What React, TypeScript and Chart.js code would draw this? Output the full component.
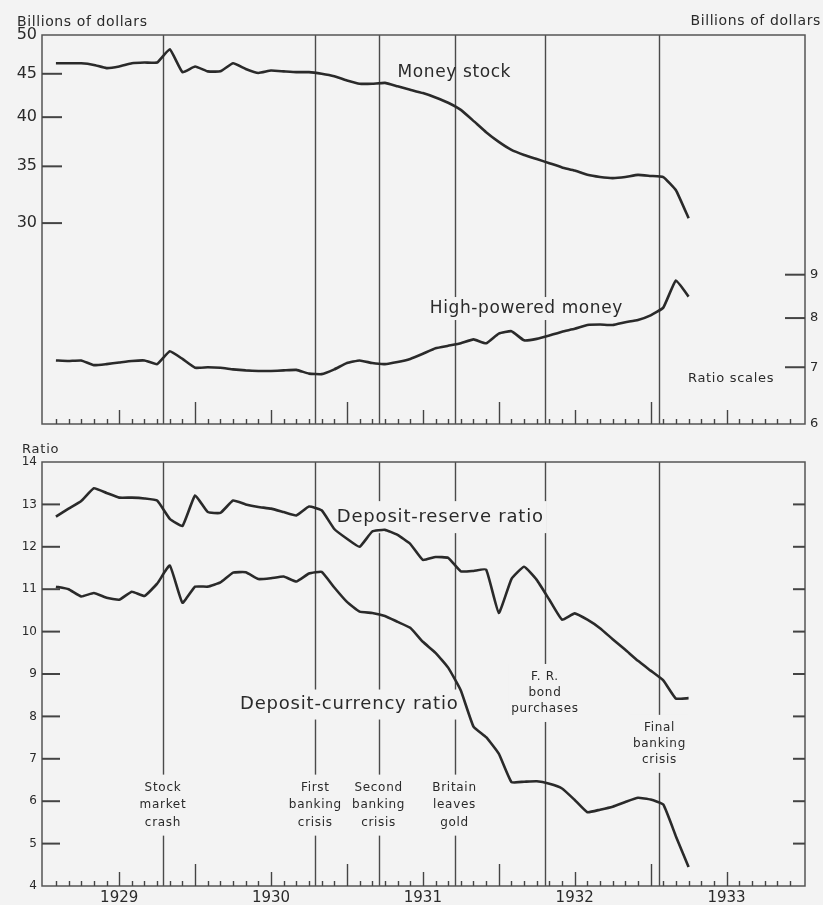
import React, { useEffect, useRef } from "react";
import { Chart, registerables } from "chart.js";

Chart.register(...registerables);

// Monthly observations, Jan 1929 (index 0) to Mar 1933 (index 50)
const moneyStock = [
  46.3, 46.3, 46.3, 46.1, 45.7, 45.9, 46.3, 46.4, 46.4, 48.1, 45.2, 45.9,
  45.3, 45.3, 46.3, 45.6, 45.1, 45.4, 45.3, 45.2, 45.2, 45.0, 44.7, 44.2,
  43.8, 43.8, 43.9, 43.5, 43.1, 42.7, 42.2, 41.6, 40.8, 39.6, 38.4, 37.4,
  36.6, 36.1, 35.7, 35.3, 34.9, 34.6, 34.2, 34.0, 33.9, 34.0, 34.2, 34.1,
  34.0, 32.8, 30.4,
];
const highPoweredMoney = [
  7.13, 7.12, 7.13, 7.04, 7.06, 7.09, 7.12, 7.13, 7.06, 7.31, 7.16, 6.99,
  7.0, 6.99, 6.96, 6.94, 6.93, 6.93, 6.94, 6.95, 6.88, 6.87, 6.96, 7.08,
  7.13, 7.08, 7.06, 7.1, 7.16, 7.26, 7.37, 7.42, 7.47, 7.55, 7.47, 7.67,
  7.72, 7.53, 7.56, 7.63, 7.71, 7.77, 7.85, 7.86, 7.85, 7.91, 7.96, 8.06,
  8.23, 8.86, 8.48,
];
const depositReserveRatio = [
  12.71, 12.9, 13.08, 13.38, 13.27, 13.16, 13.16, 13.14, 13.09, 12.66, 12.49, 13.21,
  12.82, 12.8, 13.09, 13.0, 12.94, 12.9, 12.82, 12.74, 12.95, 12.86, 12.42, 12.19,
  12.0, 12.36, 12.4, 12.28, 12.07, 11.69, 11.76, 11.74, 11.42, 11.43, 11.46, 10.44,
  11.24, 11.53, 11.22, 10.75, 10.28, 10.43, 10.28, 10.08, 9.82, 9.57, 9.31, 9.08,
  8.85, 8.42, 8.43,
];
const depositCurrencyRatio = [
  11.06, 11.0, 10.83, 10.91, 10.8, 10.75, 10.94, 10.84, 11.13, 11.56, 10.68, 11.06,
  11.06, 11.16, 11.39, 11.4, 11.24, 11.26, 11.3, 11.18, 11.37, 11.41, 11.04, 10.7,
  10.47, 10.44, 10.37, 10.23, 10.09, 9.76, 9.5, 9.15, 8.61, 7.76, 7.51, 7.12,
  6.45, 6.46, 6.47, 6.41, 6.3, 6.03, 5.74, 5.8, 5.87, 5.98, 6.08, 6.04,
  5.92, 5.17, 4.45,
];

const yearLabels = ["1929", "1930", "1931", "1932", "1933"];
const yearTickMonths = [5, 17, 29, 41, 53];
const billionsLeftTicks = [30, 35, 40, 45, 50];
const billionsRightTicks = [6, 7, 8, 9];
const ratioTicks = [4, 5, 6, 7, 8, 9, 10, 11, 12, 13, 14];

const eventMonths = [8.46, 20.5, 25.5, 31.5, 38.65, 47.7];
const eventNames = [
  ["Stock", "market", "crash"],
  ["First", "banking", "crisis"],
  ["Second", "banking", "crisis"],
  ["Britain", "leaves", "gold"],
  ["F. R.", "bond", "purchases"],
  ["Final", "banking", "crisis"],
];
const eventLabelRatio = [6.32, 6.32, 6.32, 6.32, 8.93, 7.73];

// ---- styling / layout ----
const BG = "#f3f3f3";
const INK = "#2a2a2a";
const FONT = '"DejaVu Sans", sans-serif';
const X_MIN = -1.1;
const X_MAX = 59.2;
const LOG_SPAN = 2.876;

type Lbl = {
  lines: string[];
  x: number;
  y: number;
  axis: string;
  size: number;
  spacing: number;
  lineH: number;
  align: "left" | "center";
  mask: boolean;
  pad: number;
};

function drawLabels(chart: any, labels: Lbl[]) {
  const ctx = chart.ctx as CanvasRenderingContext2D;
  const xs = chart.scales.x;
  for (const l of labels) {
    const ys = chart.scales[l.axis];
    const px = xs.getPixelForValue(l.x);
    const py = ys.getPixelForValue(l.y);
    ctx.font = `${l.size}px ${FONT}`;
    (ctx as any).letterSpacing = `${l.spacing}px`;
    const w = Math.max(...l.lines.map((t) => ctx.measureText(t).width));
    if (l.mask) {
      const left = l.align === "left" ? px : px - w / 2;
      ctx.fillStyle = BG;
      ctx.fillRect(
        left - 3,
        py - l.size / 2 - l.pad,
        w + 6,
        (l.lines.length - 1) * l.lineH + l.size + 2 * l.pad
      );
    }
    ctx.fillStyle = INK;
    ctx.textAlign = l.align;
    ctx.textBaseline = "middle";
    l.lines.forEach((t, k) => ctx.fillText(t, px, py + k * l.lineH));
  }
  (ctx as any).letterSpacing = "0px";
}

function line(ctx: CanvasRenderingContext2D, x1: number, y1: number, x2: number, y2: number) {
  ctx.beginPath();
  ctx.moveTo(x1, y1);
  ctx.lineTo(x2, y2);
  ctx.stroke();
}

function drawFrameAndMonthTicks(chart: any) {
  const ctx = chart.ctx as CanvasRenderingContext2D;
  const a = chart.chartArea;
  const xs = chart.scales.x;
  ctx.strokeStyle = "#555";
  ctx.lineWidth = 1.5;
  ctx.strokeRect(a.left, a.top, a.right - a.left, a.bottom - a.top);
  ctx.strokeStyle = "#444";
  ctx.lineWidth = 1.4;
  for (let m = 0; m <= 58; m++) {
    const len = m % 12 === 11 ? 22 : m % 12 === 5 ? 14 : 5;
    const x = Math.round(xs.getPixelForValue(m)) + 0.5;
    line(ctx, x, a.bottom, x, a.bottom - len);
  }
}

function drawEventLines(chart: any) {
  const ctx = chart.ctx as CanvasRenderingContext2D;
  const a = chart.chartArea;
  const xs = chart.scales.x;
  ctx.strokeStyle = "#4a4a4a";
  ctx.lineWidth = 1.4;
  eventMonths.forEach((m) => {
    const x = Math.round(xs.getPixelForValue(m)) + 0.5;
    line(ctx, x, a.top, x, a.bottom);
  });
}

const topLabels: Lbl[] = [
  { lines: ["Money stock"], x: 27.0, y: 45.2, axis: "yL", size: 17, spacing: 0.6, lineH: 0, align: "left", mask: false, pad: 0 },
  { lines: ["High-powered money"], x: 29.55, y: 8.21, axis: "yR", size: 17, spacing: 0.6, lineH: 0, align: "left", mask: true, pad: 3 },
  { lines: ["Ratio scales"], x: 49.95, y: 6.79, axis: "yR", size: 13, spacing: 0.7, lineH: 0, align: "left", mask: false, pad: 0 },
];

const bottomLabels: Lbl[] = [
  { lines: ["Deposit-reserve ratio"], x: 22.2, y: 12.7, axis: "y", size: 18, spacing: 0.8, lineH: 0, align: "left", mask: true, pad: 7 },
  { lines: ["Deposit-currency ratio"], x: 14.55, y: 8.28, axis: "y", size: 18, spacing: 0.8, lineH: 0, align: "left", mask: true, pad: 6 },
  ...eventNames.map((names, k) => ({
    lines: names,
    x: eventMonths[k],
    y: eventLabelRatio[k],
    axis: "y",
    size: 12,
    spacing: 0.7,
    lineH: k < 4 ? 17.5 : 16,
    align: "center" as const,
    mask: true,
    pad: 7,
  })),
];

const topPlugin = {
  id: "topDecor",
  beforeDatasetsDraw(chart: any) {
    const ctx = chart.ctx as CanvasRenderingContext2D;
    const a = chart.chartArea;
    ctx.save();
    drawEventLines(chart);
    drawLabels(chart, topLabels);
    drawFrameAndMonthTicks(chart);
    ctx.strokeStyle = "#444";
    ctx.lineWidth = 2;
    billionsLeftTicks
      .filter((v) => v < 50)
      .forEach((v) => {
        const y = chart.scales.yL.getPixelForValue(v);
        line(ctx, a.left, y, a.left + 20, y);
      });
    billionsRightTicks
      .filter((v) => v > 6)
      .forEach((v) => {
        const y = chart.scales.yR.getPixelForValue(v);
        line(ctx, a.right - 20, y, a.right, y);
      });
    ctx.restore();
  },
  afterDraw(chart: any) {
    const ctx = chart.ctx as CanvasRenderingContext2D;
    ctx.save();
    ctx.font = `14px ${FONT}`;
    (ctx as any).letterSpacing = "0.6px";
    ctx.fillStyle = INK;
    ctx.textBaseline = "middle";
    ctx.textAlign = "left";
    ctx.fillText("Billions of dollars", 17, 22);
    ctx.textAlign = "right";
    ctx.fillText("Billions of dollars", 821, 21);
    (ctx as any).letterSpacing = "0px";
    ctx.restore();
  },
};

const bottomPlugin = {
  id: "bottomDecor",
  beforeDatasetsDraw(chart: any) {
    const ctx = chart.ctx as CanvasRenderingContext2D;
    const a = chart.chartArea;
    ctx.save();
    drawEventLines(chart);
    drawLabels(chart, bottomLabels);
    drawFrameAndMonthTicks(chart);
    ctx.strokeStyle = "#444";
    ctx.lineWidth = 2;
    ratioTicks
      .filter((v) => v > 4 && v < 14)
      .forEach((v) => {
        const y = chart.scales.y.getPixelForValue(v);
        line(ctx, a.left, y, a.left + 18, y);
        line(ctx, a.right - 12, y, a.right, y);
      });
    ctx.restore();
  },
  afterDraw(chart: any) {
    const ctx = chart.ctx as CanvasRenderingContext2D;
    ctx.save();
    ctx.font = `13px ${FONT}`;
    (ctx as any).letterSpacing = "0.8px";
    ctx.fillStyle = INK;
    ctx.textBaseline = "middle";
    ctx.textAlign = "left";
    ctx.fillText("Ratio", 22, 10);
    (ctx as any).letterSpacing = "0px";
    ctx.restore();
  },
};

const lineDs = (label: string, values: number[], axis: string) => ({
  label,
  data: values.map((v, i) => ({ x: i, y: v })),
  yAxisID: axis,
  borderColor: INK,
  borderWidth: 2.6,
  pointRadius: 0,
  tension: 0.12,
  fill: false,
});

export default function App() {
  const topRef = useRef<HTMLCanvasElement>(null);
  const botRef = useRef<HTMLCanvasElement>(null);

  useEffect(() => {
    const top = new Chart(topRef.current as HTMLCanvasElement, {
      type: "line",
      data: {
        datasets: [
          lineDs("Money stock", moneyStock, "yL"),
          lineDs("High-powered money", highPoweredMoney, "yR"),
        ],
      },
      options: {
        animation: false,
        responsive: false,
        maintainAspectRatio: false,
        layout: { padding: { top: 35, bottom: 16, left: 0, right: 0 } },
        plugins: { legend: { display: false }, tooltip: { enabled: false } },
        scales: {
          x: { type: "linear", min: X_MIN, max: X_MAX, display: false },
          yL: {
            type: "logarithmic",
            position: "left",
            min: 50 / LOG_SPAN,
            max: 50,
            afterFit: (s: any) => {
              s.width = 42;
            },
            afterBuildTicks: (s: any) => {
              s.ticks = billionsLeftTicks.map((v) => ({ value: v }));
            },
            ticks: {
              callback: (v: any) => String(v),
              font: { family: FONT, size: 16 },
              color: INK,
              padding: 5,
            },
            grid: { display: false, drawTicks: false },
            border: { display: false },
          },
          yR: {
            type: "logarithmic",
            position: "right",
            min: 6,
            max: 6 * LOG_SPAN,
            afterFit: (s: any) => {
              s.width = 18;
            },
            afterBuildTicks: (s: any) => {
              s.ticks = billionsRightTicks.map((v) => ({ value: v }));
            },
            ticks: {
              callback: (v: any) => String(v),
              font: { family: FONT, size: 13 },
              color: INK,
              padding: 5,
            },
            grid: { display: false, drawTicks: false },
            border: { display: false },
          },
        },
      } as any,
      plugins: [topPlugin],
    });

    const bot = new Chart(botRef.current as HTMLCanvasElement, {
      type: "line",
      data: {
        datasets: [
          lineDs("Deposit-reserve ratio", depositReserveRatio, "y"),
          lineDs("Deposit-currency ratio", depositCurrencyRatio, "y"),
        ],
      },
      options: {
        animation: false,
        responsive: false,
        maintainAspectRatio: false,
        layout: { padding: { top: 22, bottom: 0, left: 0, right: 18 } },
        plugins: { legend: { display: false }, tooltip: { enabled: false } },
        scales: {
          x: {
            type: "linear",
            position: "bottom",
            min: X_MIN,
            max: X_MAX,
            afterFit: (s: any) => {
              s.height = 19;
            },
            afterBuildTicks: (s: any) => {
              s.ticks = yearTickMonths.map((v) => ({ value: v }));
            },
            ticks: {
              callback: (v: any) => yearLabels[yearTickMonths.indexOf(v)],
              autoSkip: false,
              maxRotation: 0,
              font: { family: FONT, size: 15 },
              color: INK,
              padding: 3,
            },
            grid: { display: false, drawTicks: false },
            border: { display: false },
          },
          y: {
            type: "linear",
            position: "left",
            min: 4,
            max: 14,
            afterFit: (s: any) => {
              s.width = 42;
            },
            afterBuildTicks: (s: any) => {
              s.ticks = ratioTicks.map((v) => ({ value: v }));
            },
            ticks: {
              callback: (v: any) => String(v),
              font: { family: FONT, size: 12 },
              color: INK,
              padding: 5,
            },
            grid: { display: false, drawTicks: false },
            border: { display: false },
          },
        },
      } as any,
      plugins: [bottomPlugin],
    });

    return () => {
      top.destroy();
      bot.destroy();
    };
  }, []);

  return (
    <div
      style={{
        position: "absolute",
        left: 0,
        top: 0,
        width: 823,
        height: 905,
        background: BG,
        overflow: "hidden",
      }}
    >
      <canvas
        ref={topRef}
        width={823}
        height={440}
        style={{ position: "absolute", left: 0, top: 0, width: 823, height: 440 }}
      />
      <canvas
        ref={botRef}
        width={823}
        height={465}
        style={{ position: "absolute", left: 0, top: 440, width: 823, height: 465 }}
      />
    </div>
  );
}
